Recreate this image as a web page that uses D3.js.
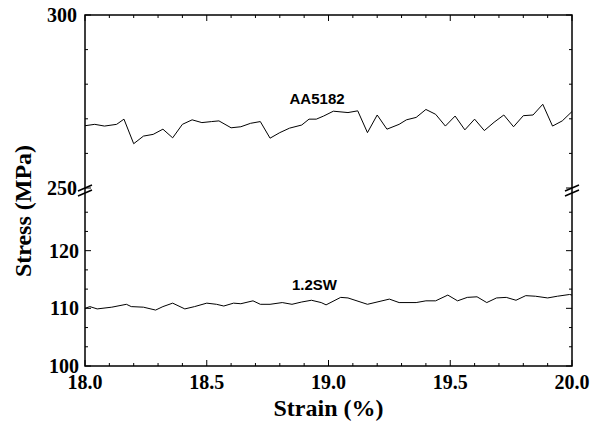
<!DOCTYPE html>
<html>
<head>
<meta charset="utf-8">
<script src="https://cdn.jsdelivr.net/npm/d3@7"></script>
<style>
    body { margin: 0; background: #fff; }
    .tick-label { font-family: "Liberation Serif", "Times New Roman", serif; font-weight: bold; font-size: 20px; }
    .title { font-family: "Liberation Serif", "Times New Roman", serif; font-weight: bold; font-size: 24px; }
    .series { font-family: "Liberation Sans", Arial, sans-serif; font-weight: bold; font-size: 15px; }
</style>
</head>
<body>
<script>
// data
var strainAA = [18.00, 18.04, 18.08, 18.13, 18.16, 18.20, 18.24, 18.28, 18.32, 18.36, 18.40, 18.44, 18.48, 18.52,
    18.55, 18.60, 18.64, 18.68, 18.72, 18.76, 18.80, 18.84, 18.89, 18.92, 18.95, 18.98, 19.02, 19.08, 19.12,
    19.16, 19.20, 19.24, 19.29, 19.32, 19.36, 19.40, 19.44, 19.48, 19.52, 19.56, 19.60, 19.64, 19.68, 19.72,
    19.76, 19.80, 19.84, 19.88, 19.92, 19.96, 20.00];
var stressAA = [268.0, 268.4, 267.9, 268.4, 269.9, 262.8, 265.0, 265.5, 267.0, 264.5, 268.4, 269.7, 268.9, 269.2,
    269.4, 267.4, 267.7, 268.7, 269.2, 264.4, 266.0, 267.3, 268.2, 269.9, 269.9, 270.8, 272.2, 271.8, 272.3,
    266.0, 271.1, 267.0, 268.4, 269.7, 270.4, 272.7, 271.3, 267.9, 270.8, 266.8, 269.9, 266.6, 269.0, 271.1,
    267.7, 270.9, 271.1, 274.2, 267.9, 269.4, 272.1];

var strainSW = [18.00, 18.02, 18.05, 18.11, 18.17, 18.19, 18.24, 18.29, 18.32, 18.36, 18.41, 18.45, 18.50, 18.54,
    18.57, 18.61, 18.64, 18.69, 18.72, 18.76, 18.81, 18.85, 18.89, 18.93, 18.97, 18.99, 19.05, 19.08, 19.16,
    19.25, 19.29, 19.36, 19.40, 19.44, 19.49, 19.53, 19.57, 19.61, 19.65, 19.69, 19.73, 19.77, 19.81, 19.85,
    19.90, 19.94, 19.99, 20.00];
var stressSW = [110.0, 110.3, 109.9, 110.2, 110.7, 110.3, 110.2, 109.7, 110.3, 110.9, 109.9, 110.3, 110.9, 110.7,
    110.4, 110.9, 110.8, 111.3, 110.7, 110.7, 111.0, 110.7, 111.1, 111.4, 111.0, 110.6, 111.9, 111.8, 110.7,
    111.6, 111.0, 111.0, 111.3, 111.3, 112.3, 111.3, 111.9, 112.0, 111.0, 111.8, 111.9, 111.4, 112.2, 112.1,
    111.8, 112.1, 112.4, 112.3];

var xTicks = [18.0, 18.5, 19.0, 19.5, 20.0];
var yTicksUpper = [250, 300];
var yTicksLower = [100, 110, 120];
var seriesNames = ['AA5182', '1.2SW'];

var svg = d3.select("body")
    .append("svg")
    .attr("width", "593")
    .attr("height", "425")
    .style('display', 'block');
margin = {top: 15, right: 21, bottom: 59, left: 85};
width = +svg.attr("width") - margin.left - margin.right;
height = +svg.attr("height") - margin.top - margin.bottom;

// break sits at about y=175 inside the plot
var breakY = 175;

var x = d3.scaleLinear().domain([18, 20]).range([margin.left, margin.left + width]);
var yUp = d3.scaleLinear().domain([250, 300]).range([margin.top + breakY - 2, margin.top]);
var yLow = d3.scaleLinear().domain([100, 130]).range([margin.top + height, margin.top + breakY + 3]);

var line = function (ys) {
    return d3.line().x(function (d) { return x(d[0]); }).y(function (d) { return ys(d[1]); });
};

//frame
svg.append('rect')
    .attr('x', margin.left)
    .attr('y', margin.top)
    .attr('width', width)
    .attr('height', height)
    .attr('fill', 'none')
    .attr('stroke', 'black')
    .attr('stroke-width', 1.5);

//x ticks, bottom and top, pointing in
var xMinor = d3.range(18, 20.001, 0.1);
[margin.top + height, margin.top].forEach(function (yy, k) {
    var dir = k == 0 ? -1 : 1;
    svg.append('g').selectAll('line')
        .data(xMinor)
        .enter()
        .append('line')
        .attr('x1', function (d) { return x(d); })
        .attr('x2', function (d) { return x(d); })
        .attr('y1', yy)
        .attr('y2', function (d) {
            var major = Math.abs(d * 2 - Math.round(d * 2)) < 1e-6;
            return yy + dir * (major ? 6 : 3);
        })
        .attr('stroke', 'black')
        .attr('stroke-width', 1);
});

svg.selectAll('.xlab')
    .data(xTicks)
    .enter()
    .append('text')
    .attr('class', 'tick-label')
    .attr('x', function (d) { return x(d); })
    .attr('y', margin.top + height + 23)
    .attr('text-anchor', 'middle')
    .text(function (d) { return d.toFixed(1); });

//y ticks, left and right
var upMinor = d3.range(250, 300.001, 10);
var lowMinor = d3.range(100, 129, 10 / 3);
[margin.left, margin.left + width].forEach(function (xx, k) {
    var dir = k == 0 ? 1 : -1;
    var g = svg.append('g');
    g.selectAll('.u')
        .data(upMinor)
        .enter()
        .append('line')
        .attr('x1', xx)
        .attr('x2', function (d) { return xx + dir * (d % 50 == 0 ? 6 : 3); })
        .attr('y1', function (d) { return yUp(d); })
        .attr('y2', function (d) { return yUp(d); })
        .attr('stroke', 'black');
    g.selectAll('.l')
        .data(lowMinor)
        .enter()
        .append('line')
        .attr('x1', xx)
        .attr('x2', function (d) {
            var major = Math.abs(d / 10 - Math.round(d / 10)) < 1e-6;
            return xx + dir * (major ? 6 : 3);
        })
        .attr('y1', function (d) { return yLow(d); })
        .attr('y2', function (d) { return yLow(d); })
        .attr('stroke', 'black');
});

svg.selectAll('.yup')
    .data(yTicksUpper)
    .enter()
    .append('text')
    .attr('class', 'tick-label')
    .attr('x', margin.left - 8)
    .attr('y', function (d) { return yUp(d); })
    .attr('dy', '0.35em')
    .attr('text-anchor', 'end')
    .text(function (d) { return d; });

svg.selectAll('.ylow')
    .data(yTicksLower)
    .enter()
    .append('text')
    .attr('class', 'tick-label')
    .attr('x', margin.left - 6)
    .attr('y', function (d) { return yLow(d); })
    .attr('dy', '0.35em')
    .attr('text-anchor', 'end')
    .text(function (d) { return d; });

//break marks
[margin.left, margin.left + width].forEach(function (xx) {
    [-2, 3].forEach(function (off) {
        svg.append('line')
            .attr('x1', xx - 7)
            .attr('y1', margin.top + breakY + off + 3)
            .attr('x2', xx + 7)
            .attr('y2', margin.top + breakY + off - 3)
            .attr('stroke', 'black')
            .attr('stroke-width', 1.5);
    });
});

//data lines
svg.append('path')
    .datum(d3.zip(strainAA, stressAA))
    .attr('d', line(yUp))
    .attr('fill', 'none')
    .attr('stroke', 'black')
    .attr('stroke-width', 1);

svg.append('path')
    .datum(d3.zip(strainSW, stressSW))
    .attr('d', line(yLow))
    .attr('fill', 'none')
    .attr('stroke', 'black')
    .attr('stroke-width', 1);

//series labels
svg.append('text')
    .attr('class', 'series')
    .attr('x', x(18.84))
    .attr('y', yUp(274.3))
    .text(seriesNames[0]);

svg.append('text')
    .attr('class', 'series')
    .attr('x', x(18.85))
    .attr('y', yLow(113.2))
    .text(seriesNames[1]);

//axis titles
svg.append('text')
    .attr('class', 'title')
    .attr('x', margin.left + width / 2)
    .attr('y', 416)
    .attr('text-anchor', 'middle')
    .text('Strain (%)');

svg.append('text')
    .attr('class', 'title')
    .attr('transform', 'translate(31,211) rotate(-90)')
    .attr('text-anchor', 'middle')
    .text('Stress (MPa)');
</script>
</body>
</html>
